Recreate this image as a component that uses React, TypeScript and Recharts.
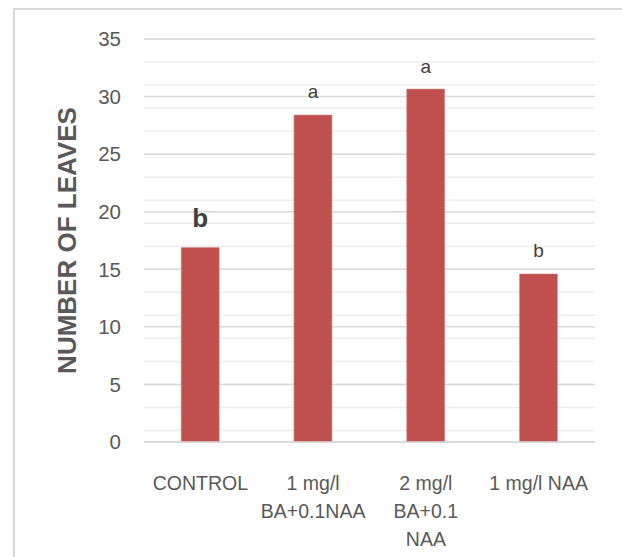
import React from "react";
import {
  BarChart,
  Bar,
  XAxis,
  YAxis,
  CartesianGrid,
  LabelList,
  Label,
} from "recharts";

// values
const categoryLines: string[][] = [
  ["CONTROL"],
  ["1 mg/l", "BA+0.1NAA"],
  ["2 mg/l", "BA+0.1", "NAA"],
  ["1 mg/l NAA"],
];
const leaves = [16.9, 28.4, 30.65, 14.6];
const groupLetters = ["b", "a", "a", "b"];
const yTicks = [0, 5, 10, 15, 20, 25, 30, 35];
const minorTicks = Array.from({ length: 36 }, (_, i) => i);

const data = categoryLines.map((lines, i) => ({
  name: lines.join(" "),
  leaves: leaves[i],
  letter: groupLetters[i],
}));

const FONT = "'Liberation Sans', Arial, sans-serif";
const TEXT = "#595959";

function CategoryTick(props: any) {
  const { x, y, payload } = props;
  const lines = categoryLines[payload.index] || [payload.value];
  return (
    <g>
      {lines.map((line, i) => (
        <text
          key={i}
          x={x}
          y={y + 33 + i * 28}
          textAnchor="middle"
          dominantBaseline="central"
          fontSize={19.5}
          fontFamily={FONT}
          fill={TEXT}
        >
          {line}
        </text>
      ))}
    </g>
  );
}

function LetterLabel(props: any) {
  const { x, y, width, index } = props;
  const bold = index === 0;
  return (
    <text
      x={x + width / 2}
      y={y - (bold ? 29 : 23)}
      textAnchor="middle"
      dominantBaseline="central"
      fontSize={bold ? 26 : 19}
      fontWeight={bold ? 700 : 400}
      fontFamily={FONT}
      fill="#404040"
    >
      {groupLetters[index]}
    </text>
  );
}

function AxisTitle(props: any) {
  const { viewBox } = props;
  const cx = 66.5;
  const cy = viewBox.y + viewBox.height / 2;
  return (
    <text
      x={cx}
      y={cy}
      transform={`rotate(-90 ${cx} ${cy})`}
      textAnchor="middle"
      dominantBaseline="central"
      fontSize={26}
      fontWeight={700}
      fontFamily={FONT}
      fill="#595959"
    >
      NUMBER OF LEAVES
    </text>
  );
}

export default function App() {
  return (
    <div
      style={{
        position: "absolute",
        left: 0,
        top: 0,
        width: 622,
        height: 557,
        background: "#fff",
        overflow: "hidden",
      }}
    >
      <div
        style={{
          position: "absolute",
          left: 13,
          top: 8,
          right: -10,
          bottom: -10,
          borderTop: "2px solid #d9d9d9",
          borderLeft: "2px solid #d9d9d9",
        }}
      />
      <BarChart
        width={622}
        height={557}
        data={data}
        margin={{ top: 39, right: 27, bottom: 0, left: 0 }}
        barCategoryGap="33%"
        style={{ position: "absolute", left: 0, top: 0 }}
      >
        <CartesianGrid
          vertical={false}
          horizontalValues={minorTicks}
          stroke="#eeeeee"
          strokeWidth={1.5}
        />
        <CartesianGrid
          vertical={false}
          horizontalValues={yTicks}
          stroke="#d9d9d9"
          strokeWidth={1.5}
        />
        <XAxis
          dataKey="name"
          interval={0}
          height={115}
          tickLine={false}
          axisLine={{ stroke: "#d9d9d9", strokeWidth: 1.5 }}
          tick={<CategoryTick />}
        />
        <YAxis
          width={144}
          domain={[0, 35]}
          ticks={yTicks}
          axisLine={false}
          tickLine={false}
          tickSize={0}
          tickMargin={23}
          tick={{ fontSize: 20.5, fontFamily: FONT, fill: TEXT }}
        >
          <Label content={<AxisTitle />} />
        </YAxis>
        <Bar
          dataKey="leaves"
          fill="#C0504D"
          stroke="#d7908e"
          strokeWidth={0.6}
          isAnimationActive={false}
        >
          <LabelList dataKey="letter" content={<LetterLabel />} />
        </Bar>
      </BarChart>
    </div>
  );
}
